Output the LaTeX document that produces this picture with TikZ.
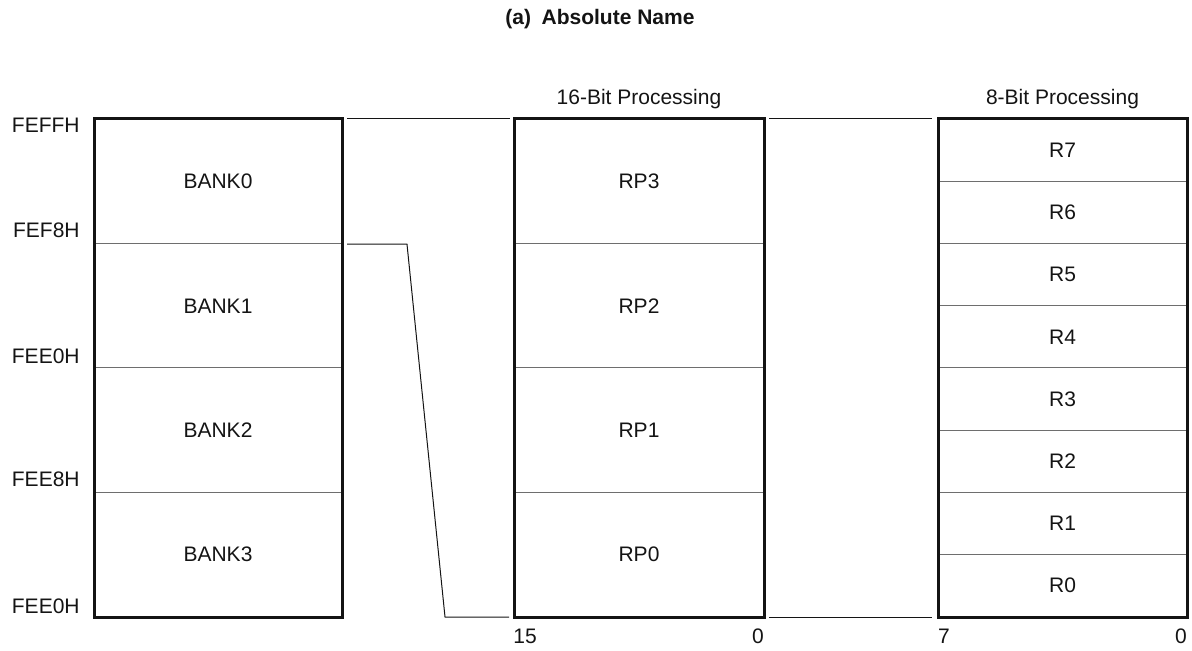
\documentclass[tikz,border=0pt]{standalone}
\usepackage{fontspec}
\setmainfont{Liberation Sans}
\usetikzlibrary{calc}
\definecolor{primary}{RGB}{20, 20, 20}
\definecolor{divider}{RGB}{110, 110, 110}

\begin{document}
\begin{tikzpicture}[x=0.5pt,y=-0.5pt,
  every node/.style={font=\fontsize{10.5}{12}\selectfont,text=primary},
  bank/.style={draw=divider,line width=0.5pt,minimum width=123.5pt,minimum height=62.125pt,inner sep=0pt,anchor=north west},
  rpair/.style={bank,minimum width=124.5pt},
  reg/.style={bank,minimum width=124pt,minimum height=31.0625pt},
  frame/.style={primary,line width=1.5pt},
  link/.style={primary,line width=0.5pt}]
\useasboundingbox (0,0) rectangle (1192,651);

% title
\node[font=\fontsize{10.5}{12}\selectfont\bfseries] (title) at (600,19) {(a)\enspace Absolute Name};

% register banks, pairs and registers
\foreach \n in {0,...,3}
  \node[bank] (bank\n) at (94,{119+\n*124.25}) {BANK\n};
\foreach \n in {0,...,3}
  \node[rpair] (rp\n) at (514,{119+(3-\n)*124.25}) {RP\n};
\foreach \n in {0,...,7}
  \node[reg] (r\n) at (938,{119+(7-\n)*62.125}) {R\n};

\draw[frame] (bank0.north west) rectangle (bank3.south east);
\draw[frame] (rp3.north west) rectangle (rp0.south east);
\draw[frame] (r7.north west) rectangle (r0.south east);

% addresses
\foreach \y/\t [count=\i] in {133/FEFFH, 238/FEF8H, 364/FEE0H, 486/FEE8H, 613/FEE0H}
  \node[anchor=base east,inner sep=0pt] (addr\i) at (80,\y) {\t};

% headings and bit numbers
\node[anchor=base] (h16) at ($(rp3.north)+(0,-14)$) {16-Bit Processing};
\node[anchor=base] (h8) at ($(r7.north)+(0,-14)$) {8-Bit Processing};
\node[anchor=base] (b15) at ($(rp0.south west)+(11,26)$) {15};
\node[anchor=base] (b0a) at ($(rp0.south east)+(-6,26)$) {0};
\node[anchor=base] (b7) at ($(r0.south west)+(6,26)$) {7};
\node[anchor=base] (b0b) at ($(r0.south east)+(-6,26)$) {0};

% expansion lines
\draw[link] ($(bank0.north east)+(5,0)$) -- ($(rp3.north west)+(-4,0)$);
\draw[link] ($(bank0.south east)+(5,0)$) -- ++(60,0)
  -- ($(rp0.south west)+(-69,0)$) -- ($(rp0.south west)+(-5,0)$);
\draw[link] ($(rp3.north east)+(5,0)$) -- ($(r7.north west)+(-6,0)$);
\draw[link] ($(rp0.south east)+(5,0)$) -- ($(r0.south west)+(-6,0)$);
\end{tikzpicture}
\end{document}
